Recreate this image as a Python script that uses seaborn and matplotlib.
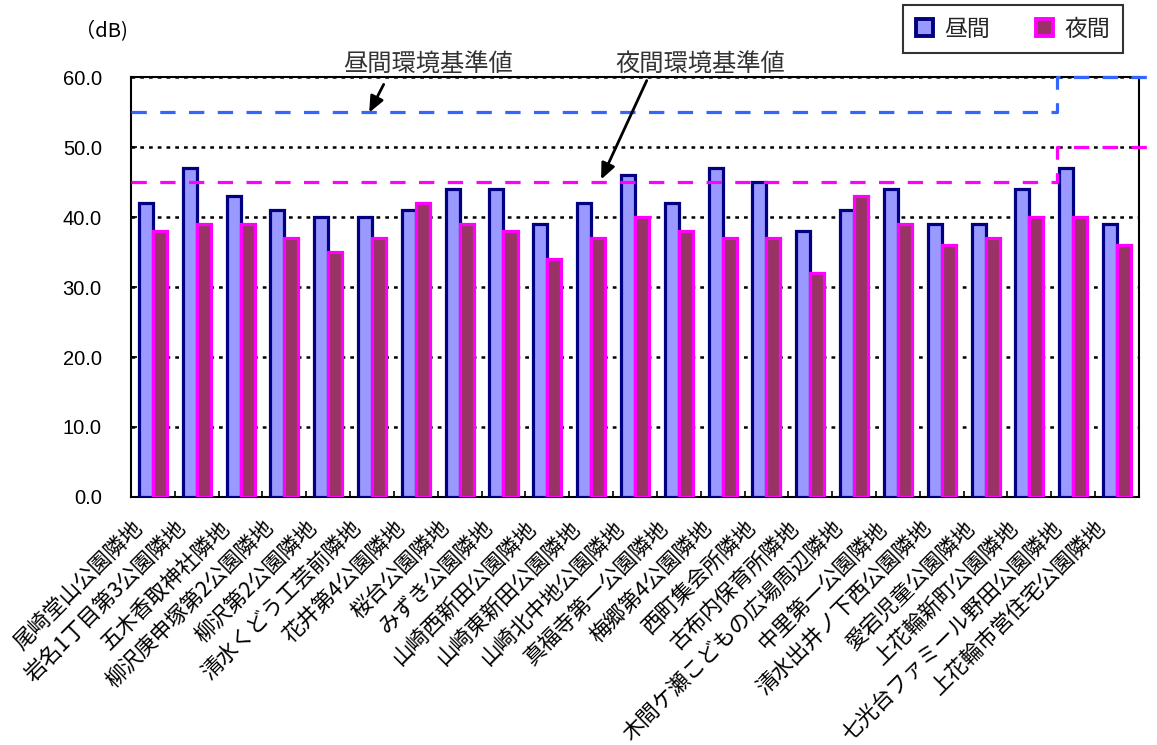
import numpy as np
import pandas as pd
import matplotlib
matplotlib.use("Agg")
import matplotlib.pyplot as plt
import seaborn as sns
from matplotlib.patches import Patch
import matplotlib.transforms as mtransforms

sites = [
    "尾崎堂山公園隣地", "岩名1丁目第3公園隣地", "五木香取神社隣地", "柳沢庚申塚第2公園隣地",
    "柳沢第2公園隣地", "清水くどう工芸前隣地", "花井第4公園隣地", "桜台公園隣地",
    "みずき公園隣地", "山崎西新田公園隣地", "山崎東新田公園隣地", "山崎北中地公園隣地",
    "真福寺第一公園隣地", "梅郷第4公園隣地", "西町集会所隣地", "古布内保育所隣地",
    "木間ケ瀬こどもの広場周辺隣地", "中里第一公園隣地", "清水出井ノ下西公園隣地", "愛宕児童公園隣地",
    "上花輪新町公園隣地", "七光台ファミール野田公園隣地", "上花輪市営住宅公園隣地",
]
day_values = [42, 47, 43, 41, 40, 40, 41, 44, 44, 39, 42, 46, 42, 47, 45, 38, 41, 44, 39, 39, 44, 47, 39]
night_values = [38, 39, 39, 37, 35, 37, 42, 39, 38, 34, 37, 40, 38, 37, 37, 32, 43, 39, 36, 37, 40, 40, 36]
series_names = ["昼間", "夜間"]
yticks = [0, 10, 20, 30, 40, 50, 60]

# environmental standards (step change between site 21 and 22)
day_std_x = [-0.5, 20.63, 20.63, 23.6]
day_std_y = [55, 55, 60, 60]
night_std_x = [-0.5, 20.63, 20.63, 23.6]
night_std_y = [45, 45, 50, 50]

df = pd.DataFrame({
    "site": sites * 2,
    "value": day_values + night_values,
    "series": [series_names[0]] * len(sites) + [series_names[1]] * len(sites),
})

sns.set_theme(style="white")
plt.rcParams["font.family"] = ["Noto Sans CJK JP", "DejaVu Sans"]

fig = plt.figure(figsize=(11.57, 7.45), dpi=100)
ax = fig.add_axes([0.1132, 0.3329, 0.9844 - 0.1132, 0.8966 - 0.3329])

fills = {"昼間": "#9999FF", "夜間": "#993366"}
edges = {"昼間": "#000080", "夜間": "#FF00FF"}

sns.barplot(data=df, x="site", y="value", hue="series", hue_order=series_names,
            palette=fills, width=0.64, ax=ax, legend=False, zorder=3, saturation=1)
for cont, name in zip(ax.containers, series_names):
    for bar in cont:
        bar.set_edgecolor(edges[name])
        bar.set_linewidth(2.3)
        bar.set_zorder(3)

ax.set_xlim(-0.5, 22.5)
ax.set_ylim(0, 60)

# grid lines
for y in yticks[1:]:
    ax.plot([-0.5, 22.5], [y, y], color="black", lw=1.8, linestyle=(0, (1.5, 2.0)), zorder=2)

# standards
ax.plot(day_std_x, day_std_y, color="#3366FF", lw=2.3, linestyle=(0, (4.8, 4.2)),
        zorder=4, clip_on=False)
ax.plot(night_std_x, night_std_y, color="#FF00FF", lw=2.3, linestyle=(0, (4.8, 4.2)),
        zorder=4, clip_on=False)

for s in ["left", "right", "top", "bottom"]:
    ax.spines[s].set_visible(True)
    ax.spines[s].set_color("black")
    ax.spines[s].set_linewidth(1.5)

ax.set_yticks(yticks)
ax.set_yticklabels([f"{v:.1f}" for v in yticks], fontsize=14.5, color="black",
                   family=["Liberation Sans", "DejaVu Sans"])
ax.tick_params(axis="y", direction="in", length=4, width=1.2, color="black", left=True, pad=21)

ax.set_xticks(range(len(sites)))
ax.set_xticklabels(sites, rotation=45, ha="right", va="top", rotation_mode="anchor",
                   fontsize=15.5, color="black")
ax.tick_params(axis="x", which="major", length=0, pad=14)
ax.set_xticks(np.arange(-0.5, len(sites), 1.0), minor=True)
ax.tick_params(axis="x", which="minor", direction="in", length=4, width=1.2, color="black", bottom=True)
offset = mtransforms.ScaledTranslation(-22 / 100, 0, fig.dpi_scale_trans)
for lab in ax.get_xticklabels():
    lab.set_transform(lab.get_transform() + offset)

ax.set_xlabel("")
ax.set_ylabel("")

fig.text(0.0875, 0.957, "（dB)", fontsize=14.5, ha="center", va="center", color="black")

# annotations
ax.annotate("", xy=(4.907, 54.57), xytext=(5.295, 59.3),
            arrowprops=dict(arrowstyle="-|>,head_length=0.8,head_width=0.35", color="black", lw=2),
            annotation_clip=False, zorder=6)
ax.annotate("", xy=(10.2, 45.0), xytext=(11.295, 59.86),
            arrowprops=dict(arrowstyle="-|>,head_length=0.8,head_width=0.35", color="black", lw=2),
            annotation_clip=False, zorder=6)
ax.text(6.28, 60.0, "昼間環境基準値", fontsize=17.5, ha="center", va="bottom", color="#333333",
        clip_on=False)
ax.text(12.5, 60.0, "夜間環境基準値", fontsize=17.5, ha="center", va="bottom", color="#333333",
        clip_on=False)

handles = [Patch(facecolor=fills[n], edgecolor=edges[n], linewidth=2.8, label=n) for n in series_names]
leg = fig.legend(handles=handles, loc="upper left", bbox_to_anchor=(0.7805, 0.9933), ncol=2,
                 frameon=True, fancybox=False, edgecolor="black", fontsize=16.5,
                 handlelength=0.75, handleheight=0.75, handletextpad=0.5, columnspacing=2.0,
                 borderpad=0.55, borderaxespad=0)
leg.get_frame().set_linewidth(1.5)

fig.savefig("out.png", dpi=100, facecolor="white")
